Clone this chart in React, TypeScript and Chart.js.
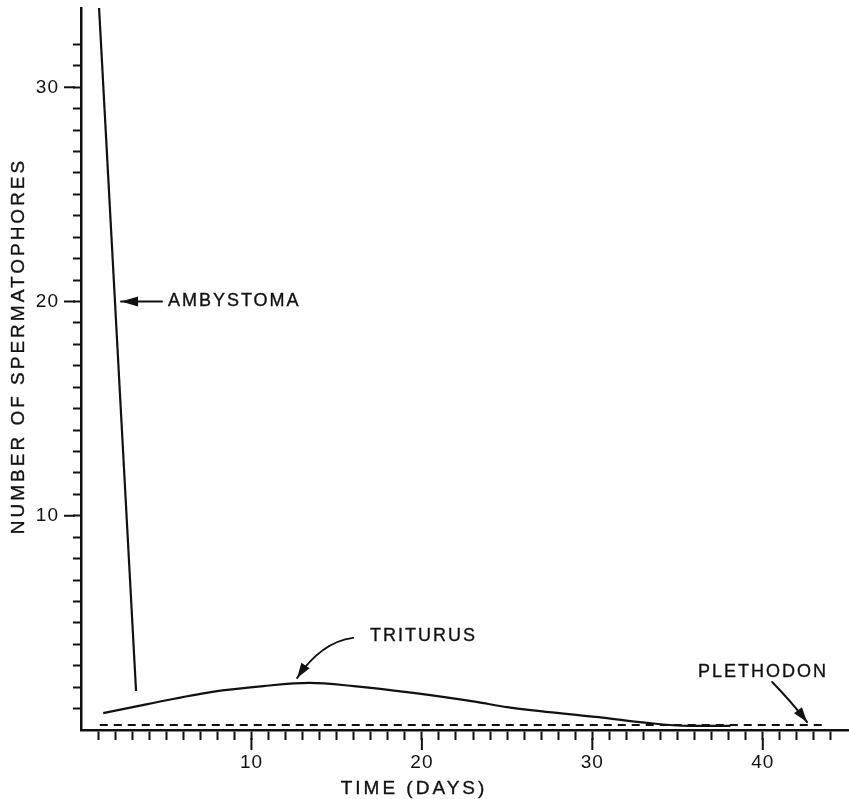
import React, { useEffect, useRef } from 'react';
import { Chart, registerables } from 'chart.js';

Chart.register(...registerables);

// ---- data ----
const ambystomaDays = [1.06, 3.23];
const ambystomaCounts = [33.7, 1.82];

const triturusDays = [1.3, 3.9, 7.7, 10.7, 13.4, 16.0, 19.5, 23.2, 25.0, 30.2, 32.8, 35.7, 38.1];
const triturusCounts = [0.79, 1.21, 1.78, 2.05, 2.2, 2.05, 1.73, 1.31, 1.07, 0.61, 0.37, 0.19, 0.19];

const plethodonDays = [1.1, 43.8];
const plethodonCounts = [0.23, 0.23];

const xTickLabels = [10, 20, 30, 40];
const yTickLabels = [10, 20, 30];

const xTitle = 'TIME (DAYS)';
const yTitle = 'NUMBER OF SPERMATOPHORES';

// annotation labels with arrow (from, control, to) in data coordinates
const ambystomaLabel = { text: 'AMBYSTOMA', x: 5.1, y: 20, from: [4.75, 20], ctrl: [3.5, 20], to: [2.35, 20] };
const triturusLabel = { text: 'TRITURUS', x: 16.96, y: 4.39, from: [15.96, 4.3], ctrl: [14.1, 4.11], to: [12.68, 2.43] };
const plethodonLabel = { text: 'PLETHODON', x: 36.2, y: 2.71, from: [40.55, 2.24], ctrl: [41.7, 1.3], to: [42.6, 0.37] };

const FONT = '"Liberation Sans", Arial, sans-serif';
const INK = '#111';

const toXY = (xs: number[], ys: number[]) => xs.map((x, i) => ({ x, y: ys[i] }));

function drawArrow(ctx: CanvasRenderingContext2D, p0: number[], c: number[], p1: number[], headLen: number, headHalf: number) {
  ctx.beginPath();
  ctx.moveTo(p0[0], p0[1]);
  ctx.quadraticCurveTo(c[0], c[1], p1[0], p1[1]);
  ctx.stroke();
  const dx = p1[0] - c[0];
  const dy = p1[1] - c[1];
  const len = Math.hypot(dx, dy) || 1;
  const ux = dx / len, uy = dy / len;
  const bx = p1[0] - ux * headLen, by = p1[1] - uy * headLen;
  ctx.beginPath();
  ctx.moveTo(p1[0], p1[1]);
  ctx.lineTo(bx - uy * headHalf, by + ux * headHalf);
  ctx.lineTo(bx + uy * headHalf, by - ux * headHalf);
  ctx.closePath();
  ctx.fill();
}

function boldText(ctx: CanvasRenderingContext2D, t: string, x: number, y: number) {
  ctx.fillText(t, x, y);
  ctx.strokeText(t, x, y);
}

const stylePlugin = {
  id: 'stylePlugin',
  beforeDraw(chart: any) {
    const ctx = chart.ctx;
    ctx.save();
    ctx.fillStyle = '#fff';
    ctx.fillRect(0, 0, chart.width, chart.height);
    ctx.restore();
    ctx.letterSpacing = '1px';
  },
};

const majorTicksPlugin = {
  id: 'majorTicks',
  afterDraw(chart: any) {
    const ctx = chart.ctx;
    const xs = chart.scales.x;
    const ys = chart.scales.y;
    const area = chart.chartArea;
    ctx.save();
    ctx.strokeStyle = INK;
    ctx.lineWidth = 2;
    yTickLabels.forEach((v) => {
      const py = ys.getPixelForValue(v);
      ctx.beginPath();
      ctx.moveTo(area.left - 6, py);
      ctx.lineTo(area.left - 17, py);
      ctx.stroke();
    });
    xTickLabels.forEach((v) => {
      const px = xs.getPixelForValue(v);
      ctx.beginPath();
      ctx.moveTo(px, area.bottom + 8);
      ctx.lineTo(px, area.bottom + 20);
      ctx.stroke();
    });
    ctx.restore();
  },
};

const annotationsPlugin = {
  id: 'annotations',
  afterDraw(chart: any) {
    const ctx = chart.ctx;
    const xs = chart.scales.x;
    const ys = chart.scales.y;
    const P = (p: number[]) => [xs.getPixelForValue(p[0]), ys.getPixelForValue(p[1])];
    ctx.save();
    ctx.fillStyle = INK;
    ctx.strokeStyle = INK;
    ctx.lineWidth = 2;
    ctx.lineCap = 'round';
    [ambystomaLabel, triturusLabel, plethodonLabel].forEach((a, i) => {
      drawArrow(ctx, P(a.from), P(a.ctrl), P(a.to), i === 0 ? 17 : 15, 5);
    });
    ctx.lineWidth = 0.35;
    ctx.font = `18px ${FONT}`;
    ctx.letterSpacing = '2px';
    ctx.textAlign = 'left';
    ctx.textBaseline = 'middle';
    [ambystomaLabel, triturusLabel, plethodonLabel].forEach((a) => {
      boldText(ctx, a.text, xs.getPixelForValue(a.x), ys.getPixelForValue(a.y));
    });

    // axis titles
    ctx.font = `19px ${FONT}`;
    ctx.letterSpacing = '3px';
    ctx.textAlign = 'center';
    boldText(ctx, xTitle, 414, 789);
    ctx.save();
    ctx.translate(19, 346);
    ctx.rotate(-Math.PI / 2);
    boldText(ctx, yTitle, 0, 0);
    ctx.restore();
    ctx.restore();
  },
};

export default function App() {
  const ref = useRef<HTMLCanvasElement>(null);
  useEffect(() => {
    document.body.style.margin = '0';
    const canvas = ref.current!;
    const xTickColor = (c: any) => (c.tick && (c.tick.value === 0 || c.tick.value === 45) ? 'rgba(0,0,0,0)' : INK);
    const yTickColor = (c: any) => (c.tick && c.tick.value === 0 ? 'rgba(0,0,0,0)' : INK);
    const chart = new Chart(canvas, {
      type: 'line',
      data: {
        datasets: [
          {
            label: 'Ambystoma',
            data: toXY(ambystomaDays, ambystomaCounts),
            borderColor: INK,
            borderWidth: 2.2,
            pointRadius: 0,
            tension: 0,
          },
          {
            label: 'Triturus',
            data: toXY(triturusDays, triturusCounts),
            borderColor: INK,
            borderWidth: 2.2,
            pointRadius: 0,
            cubicInterpolationMode: 'monotone',
          },
          {
            label: 'Plethodon',
            data: toXY(plethodonDays, plethodonCounts),
            borderColor: INK,
            borderWidth: 2,
            borderDash: [8, 6],
            pointRadius: 0,
            tension: 0,
          },
        ],
      },
      options: {
        animation: false,
        responsive: false,
        layout: { padding: { left: 0, top: 8, right: 1, bottom: 0 } },
        plugins: { legend: { display: false }, tooltip: { enabled: false } },
        scales: {
          x: {
            type: 'linear',
            min: 0,
            max: 45,
            afterFit: (s: any) => { s.height = 69; s.paddingLeft = 0; s.paddingRight = 0; },
            border: { display: true, color: INK, width: 2.5 },
            grid: { drawOnChartArea: false, drawTicks: true, tickLength: 10, tickWidth: 2, tickColor: xTickColor },
            ticks: {
              stepSize: 1,
              autoSkip: false,
              maxRotation: 0,
              padding: 11,
              color: INK,
              font: { family: FONT, size: 19 },
              callback: (v: any) => (xTickLabels.includes(Number(v)) ? String(v) : ''),
            },
          },
          y: {
            type: 'linear',
            min: 0,
            max: 33.7,
            afterFit: (s: any) => { s.width = 81; s.paddingTop = 0; s.paddingBottom = 0; },
            afterBuildTicks: (s: any) => { s.ticks = s.ticks.filter((t: any) => Number.isInteger(t.value)); },
            border: { display: true, color: INK, width: 2.5 },
            grid: { drawOnChartArea: false, drawTicks: true, tickLength: 8, tickWidth: 2, tickColor: yTickColor },
            ticks: {
              stepSize: 1,
              autoSkip: false,
              padding: 14,
              color: INK,
              font: { family: FONT, size: 19 },
              callback: (v: any) => (yTickLabels.includes(Number(v)) ? String(v) : ''),
            },
          },
        },
      },
      plugins: [stylePlugin, majorTicksPlugin, annotationsPlugin],
    } as any);
    return () => chart.destroy();
  }, []);
  return (
    <div style={{ position: 'absolute', left: 0, top: 0, width: 849, height: 799, background: '#fff' }}>
      <canvas ref={ref} width={849} height={799} style={{ display: 'block' }} />
    </div>
  );
}
